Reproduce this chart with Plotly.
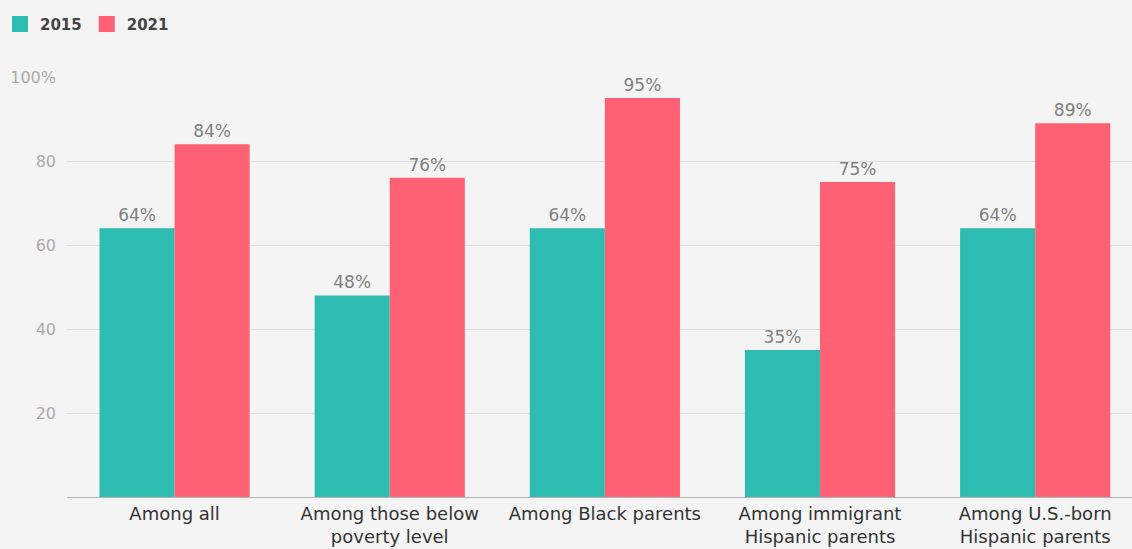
import plotly.graph_objects as go

categories = ["Among all", "Among those below<br>poverty level", "Among Black parents",
              "Among immigrant<br>Hispanic parents", "Among U.S.-born<br>Hispanic parents"]
values_2015 = [64, 48, 64, 35, 64]
values_2021 = [84, 76, 95, 75, 89]
tick_vals = [20, 40, 60, 80, 100]
tick_text = ["20", "40", "60", "80", "100%"]

COL_2015 = "#2dbcb1"
COL_2021 = "#ff6174"
FONT = "'DejaVu Sans', sans-serif"
x_idx = list(range(len(categories)))

fig = go.Figure()
fig.add_trace(go.Bar(x=x_idx, y=values_2015, name="2015", showlegend=False,
                     marker=dict(color=COL_2015, line=dict(width=0)),
                     text=[f"{v}%" for v in values_2015], textposition="outside",
                     textfont=dict(color="#808080", size=17), cliponaxis=False))
fig.add_trace(go.Bar(x=x_idx, y=values_2021, name="2021", showlegend=False,
                     marker=dict(color=COL_2021, line=dict(width=0)),
                     text=[f"{v}%" for v in values_2021], textposition="outside",
                     textfont=dict(color="#808080", size=17), cliponaxis=False))
# legend entries (square swatches)
for name, col in [("2015", COL_2015), ("2021", COL_2021)]:
    fig.add_trace(go.Scatter(x=[None], y=[None], mode="markers", name=name,
                             marker=dict(symbol="square", size=20, color=col, line=dict(width=0))))

fig.update_layout(
    width=1132, height=549,
    paper_bgcolor="#f4f4f4", plot_bgcolor="#f4f4f4",
    font=dict(family=FONT, color="#333333", size=16),
    barmode="group", bargap=0.302, bargroupgap=0,
    margin=dict(l=67, r=0, t=77, b=52, pad=0),
    legend=dict(orientation="h", x=-0.006, y=0.986, xref="container", yref="container",
                xanchor="left", yanchor="top", font=dict(size=15, color="#444444", weight="bold"),
                itemwidth=30, traceorder="normal", bgcolor="rgba(0,0,0,0)", tracegroupgap=0),
    xaxis=dict(tickmode="array", tickvals=x_idx, ticktext=categories,
               range=[-0.5, 4.45], showgrid=False, showline=True, linecolor="#b5b5b5",
               linewidth=1, ticks="", tickfont=dict(size=18, color="#333333"), fixedrange=True),
    yaxis=dict(range=[0, 100], tickmode="array", tickvals=tick_vals, ticktext=tick_text,
               showgrid=True, gridcolor="#dedede", gridwidth=1, zeroline=False,
               tickfont=dict(size=16, color="#aaaaaa"), ticks="", ticklabelstandoff=10,
               fixedrange=True),
)

fig.write_html("out.html", config={"displayModeBar": False},
               post_script="document.body.style.margin='0';document.body.style.background='#f4f4f4';")
